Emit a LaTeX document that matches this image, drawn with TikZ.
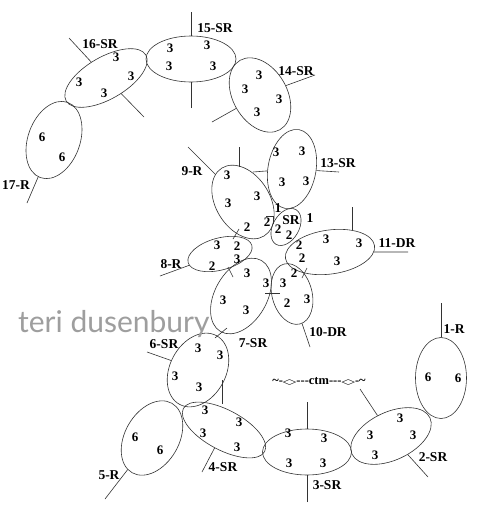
\documentclass[tikz,border=0pt]{standalone}
\usepackage{fontspec}
\setmainfont{Liberation Serif}
\newfontfamily\djv{DejaVu Sans}
\newfontfamily\hand{Lato}
\usepackage{graphicx}
\usetikzlibrary{shapes.geometric}
\begin{document}
\begin{tikzpicture}[x=1pt,y=-1pt,
  ring/.style={draw=black!80, line width=0.6pt, ellipse, inner sep=0pt},
  spoke/.style={draw=black!80, line width=0.6pt},
  lab/.style={font=\fontsize{13.5}{14}\selectfont\bfseries, inner sep=0pt},
  num/.style={font=\fontsize{13}{13}\selectfont\bfseries, inner sep=0pt}]
\useasboundingbox[fill=white] (0,0) rectangle (478,512);

% rings
\node[ring, minimum width=90pt, minimum height=46pt] (r15) at (191,59) {};
\node[ring, minimum width=92pt, minimum height=42pt, rotate=30] (r16) at (106,78) {};
\node[ring, minimum width=80pt, minimum height=52pt, rotate=70] (r17) at (54,140) {};
\node[ring, minimum width=80pt, minimum height=54pt, rotate=-60] (r14) at (260,95) {};
\node[ring, minimum width=80pt, minimum height=48pt, rotate=80] (r13) at (292,169) {};
\node[ring, minimum width=80pt, minimum height=54pt, rotate=-58] (r9) at (243,202) {};
\node[ring, minimum width=40pt, minimum height=26pt, rotate=60] (rsr) at (286,227) {};
\node[ring, minimum width=66pt, minimum height=32pt, rotate=15] (r8) at (220,254) {};
\node[ring, minimum width=82pt, minimum height=52pt, rotate=60] (r7) at (241,296) {};
\node[ring, minimum width=62pt, minimum height=40pt, rotate=-75] (r10) at (292,294) {};
\node[ring, minimum width=90pt, minimum height=44pt, rotate=8] (r11) at (330,252) {};
\node[ring, minimum width=78pt, minimum height=56pt, rotate=62] (r6) at (198,370) {};
\node[ring, minimum width=80pt, minimum height=54pt, rotate=60] (r5) at (152,438) {};
\node[ring, minimum width=92pt, minimum height=40pt, rotate=-28] (r4) at (224,430) {};
\node[ring, minimum width=89pt, minimum height=46pt] (r3) at (307,452) {};
\node[ring, minimum width=86pt, minimum height=48pt, rotate=25] (r2) at (391,436) {};
\node[ring, minimum width=51pt, minimum height=81pt] (r1) at (441,378) {};

% free ends of spokes
\coordinate (e15t) at (191,12);
\coordinate (e15b) at (191,108);
\coordinate (e16a) at (69,38);
\coordinate (e16b) at (144,117);
\coordinate (e17) at (27,203);
\coordinate (e14a) at (315,75);
\coordinate (e14b) at (212,122);
\coordinate (e13a) at (253,172);
\coordinate (e13b) at (339,172);
\coordinate (e9a) at (188,147);
\coordinate (e9b) at (239,147);
\coordinate (e9c) at (239,167);
\coordinate (e8) at (160,276);
\coordinate (e11a) at (352,207);
\coordinate (e11b) at (352,230);
\coordinate (e11c) at (408,252);
\coordinate (e10) at (310,347);
\coordinate (e6a) at (147,352);
\coordinate (e6b) at (222,380);
\coordinate (e6c) at (222,404);
\coordinate (e5) at (105,499);
\coordinate (e4) at (202,472);
\coordinate (e3t) at (307,402);
\coordinate (e3b) at (307,502);
\coordinate (e2a) at (360,389);
\coordinate (e2b) at (428,477);
\coordinate (e1) at (441,303);

\draw[spoke] (e15t) -- (r15);
\draw[spoke] (e15b) -- (r15);
\draw[spoke] (e16a) -- (r16);
\draw[spoke] (e16b) -- (r16);
\draw[spoke] (e17) -- (r17);
\draw[spoke] (e14a) -- (r14);
\draw[spoke] (e14b) -- (r14);
\draw[spoke] (e13a) -- (r13);
\draw[spoke] (e13b) -- (r13);
\draw[spoke] (e9a) -- (r9);
\draw[spoke] (e9b) -- (e9c);
\draw[spoke] (e8) -- (r8);
\draw[spoke] (e11a) -- (e11b);
\draw[spoke] (e11c) -- (r11);
\draw[spoke] (e10) -- (r10);
\draw[spoke] (e6a) -- (r6);
\draw[spoke] (e6b) -- (e6c);
\draw[spoke] (e5) -- (r5);
\draw[spoke] (e4) -- (r4);
\draw[spoke] (e3t) -- (r3);
\draw[spoke] (e3b) -- (r3);
\draw[spoke] (e2a) -- (r2);
\draw[spoke] (e2b) -- (r2);
\draw[spoke] (e1) -- (r1);

% small joining ticks
\coordinate (t1a) at (233,239); \coordinate (t1b) at (239,229);
\coordinate (t2a) at (228,267); \coordinate (t2b) at (233,277);
\coordinate (t3a) at (265,293); \coordinate (t3b) at (280,293);
\coordinate (t4a) at (215,338); \coordinate (t4b) at (227,328);
\coordinate (t5a) at (302,278); \coordinate (t5b) at (307,268);
\coordinate (t6a) at (266,216); \coordinate (t6b) at (273,216); \coordinate (t6c) at (273,224);
\draw[spoke] (t1a) -- (t1b);
\draw[spoke] (t2a) -- (t2b);
\draw[spoke] (t3a) -- (t3b);
\draw[spoke] (t4a) -- (t4b);
\draw[spoke] (t5a) -- (t5b);
\draw[spoke] (t6a) -- (t6b) -- (t6c);

% stitch counts
\foreach \p/\t [count=\i] in {
  {(170,48)}/3, {(207,45)}/3, {(169,66)}/3, {(213,66)}/3,
  {(116,57)}/3, {(131,76)}/3, {(79,82)}/3, {(104,93)}/3,
  {(42,137)}/6, {(62,157)}/6,
  {(259,75)}/3, {(245,89)}/3, {(279,99)}/3, {(257,112)}/3,
  {(276,152)}/3, {(302,151)}/3, {(282,182)}/3, {(306,181)}/3,
  {(227,175)}/3, {(257,196)}/3, {(228,203)}/3, {(247,227)}/2, {(267,222)}/2,
  {(278,229)}/2, {(289,235)}/2,
  {(217,245)}/3, {(237,246)}/2, {(212,266)}/2, {(237,259)}/3,
  {(247,273)}/3, {(266,283)}/3, {(223,300)}/3, {(246,310)}/3,
  {(294,273)}/2, {(283,283)}/3, {(287,303)}/2, {(307,299)}/3,
  {(326,239)}/3, {(359,243)}/3, {(337,261)}/3, {(299,245)}/2, {(302,258)}/2,
  {(198,348)}/3, {(220,355)}/3, {(175,376)}/3, {(199,387)}/3,
  {(135,437)}/6, {(160,450)}/6,
  {(205,410)}/3, {(239,422)}/3, {(203,433)}/3, {(237,447)}/3,
  {(288,433)}/3, {(324,438)}/3, {(289,463)}/3, {(323,463)}/3,
  {(400,418)}/3, {(370,435)}/3, {(413,435)}/3, {(375,455)}/3,
  {(428,377)}/6, {(458,378)}/6}
  \node[num] (n\i) at \p {\t};

% labels
\node[lab] (l15) at (215,28) {15-SR};
\node[lab] (l16) at (100,44) {16-SR};
\node[lab] (l17) at (16,185) {17-R};
\node[lab] (l14) at (296,71) {14-SR};
\node[lab] (l13) at (338,163) {13-SR};
\node[lab] (l9) at (192,171) {9-R};
\node[lab] (lsr) at (291,220) {SR};
\node[lab] (lone1) at (278,208) {1};
\node[lab] (lone2) at (310,218) {1};
\node[lab] (l8) at (171,264) {8-R};
\node[lab] (l7) at (253,343) {7-SR};
\node[lab] (l10) at (328,332) {10-DR};
\node[lab] (l11) at (397,243) {11-DR};
\node[lab] (l6) at (164,344) {6-SR};
\node[lab] (l5) at (109,475) {5-R};
\node[lab] (l4) at (223,467) {4-SR};
\node[lab] (l3) at (327,485) {3-SR};
\node[lab] (l2) at (433,457) {2-SR};
\node[lab] (l1) at (454,329) {1-R};
\node[font=\fontsize{12.5}{12.5}\selectfont\bfseries, inner sep=0pt] (ctm) at (319,381)
  {\textasciitilde-{\djv\scalebox{1.4}[0.6]{◇}}{-}{-}{-}ctm{-}{-}{-}{\djv\scalebox{1.4}[0.6]{◇}}-\textasciitilde};

% watermark
\node[font=\hand\fontsize{30}{30}\selectfont, text=black!38, inner sep=0pt, anchor=base west] (wm) at (18,332) {teri dusenbur\smash{y}};
\end{tikzpicture}
\end{document}
